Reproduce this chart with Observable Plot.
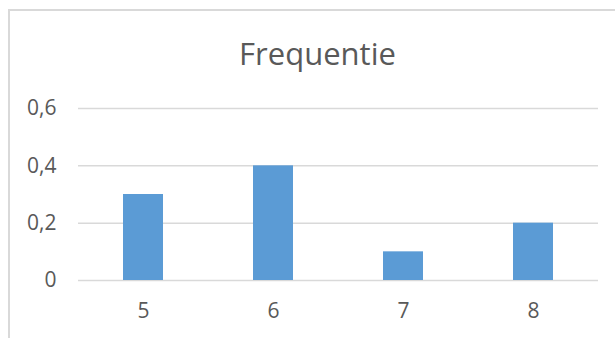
<!DOCTYPE html>
<html>
<head>
<meta charset="utf-8">
<script src="https://cdn.jsdelivr.net/npm/d3@7"></script>
<script src="https://cdn.jsdelivr.net/npm/@observablehq/plot@0.6"></script>
<style>
  html, body { margin: 0; padding: 0; background: #fff; }
  #wrap { position: relative; width: 615px; height: 338px; overflow: hidden; font-family: "Open Sans", sans-serif; }
  #frame { position: absolute; left: 8px; top: 9px; width: 700px; height: 400px; border-top: 2px solid #d9d9d9; border-left: 2px solid #d9d9d9; box-sizing: border-box; }
  #title { position: absolute; left: 0; width: 635px; top: 38px; text-align: center; font-size: 31px; color: #595959; line-height: 1; }
  #chart { position: absolute; left: 0; top: 0; }
</style>
</head>
<body>
<div id="wrap">
  <div id="frame"></div>
  <div id="title">Frequentie</div>
  <div id="chart"></div>
</div>
<script>
const categories = [5, 6, 7, 8];
const values = [0.3, 0.4, 0.1, 0.2];
const yTicks = [0, 0.2, 0.4, 0.6];
const yTickLabels = ["0", "0,2", "0,4", "0,6"];

const data = categories.map((c, i) => ({category: c, value: values[i]}));

const chart = Plot.plot({
  width: 615,
  height: 338,
  marginLeft: 78,
  marginRight: 17,
  marginTop: 108,
  marginBottom: 58,
  style: {fontFamily: "'Open Sans', sans-serif", fontSize: "21px", color: "#595959", background: "transparent"},
  x: {domain: categories, paddingInner: 0.69, paddingOuter: 0.345, label: null},
  y: {domain: [0, 0.6], label: null},
  marks: [
    Plot.ruleY(yTicks, {stroke: "#d9d9d9", strokeWidth: 1.5, strokeOpacity: 1}),
    Plot.barY(data, {x: "category", y: "value", fill: "#5b9bd5"}),
    Plot.axisY({ticks: yTicks, tickFormat: (d) => yTickLabels[yTicks.indexOf(d)], tickSize: 0, tickPadding: 22, label: null, fill: "#595959", fontSize: 21}),
    Plot.axisX({tickSize: 0, tickPadding: 23, label: null, fill: "#595959", fontSize: 21})
  ]
});
document.getElementById("chart").appendChild(chart);
</script>
</body>
</html>
